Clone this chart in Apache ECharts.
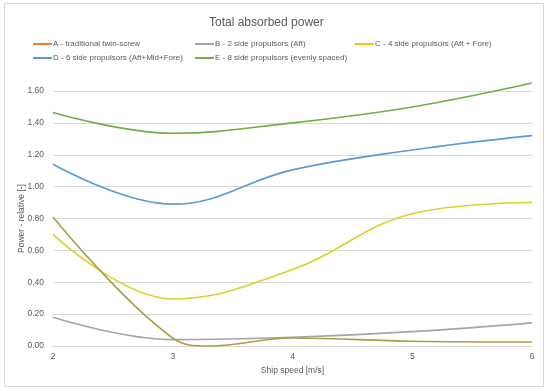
<!DOCTYPE html>
<html><head><meta charset="utf-8">
<script src="https://cdn.jsdelivr.net/npm/echarts@6/dist/echarts.min.js"></script>
<style>html,body{margin:0;padding:0;background:#fff}#c{width:550px;height:391px}</style>
</head><body><div id="c"></div>
<script>
const speeds = [2, 3, 4, 5, 6];
const speedsA = [2, 3, 3.3, 4, 5, 6];
const seriesNames = [
  'A - traditional twin-screw',
  'B - 2 side propulsors (Aft)',
  'C - 4 side propulsors (Aft + Fore)',
  'D - 6 side propulsors (Aft+Mid+Fore)',
  'E - 8 side propulsors (evenly spaced)'
];
const valuesA = [0.81, 0.05, 0.0, 0.05, 0.03, 0.025];
const valuesB = [0.18, 0.04, 0.055, 0.09, 0.145];
const valuesC = [0.70, 0.295, 0.48, 0.83, 0.90];
const valuesD = [1.14, 0.89, 1.105, 1.23, 1.32];
const valuesE = [1.465, 1.335, 1.40, 1.50, 1.65];
const yTicks = [0, 0.2, 0.4, 0.6, 0.8, 1.0, 1.2, 1.4, 1.6];

const lineColors = ['#AD9C48', '#A5A5A5', '#D9D22A', '#5B9BD5', '#70AD47'];
const legendColors = ['#ED7D31', '#A5A5A5', '#FFC000', '#5B9BD5', '#70AD47'];
const allValues = [valuesA, valuesB, valuesC, valuesD, valuesE];
const allSpeeds = [speedsA, speeds, speeds, speeds, speeds];
const legendPos = [[33, 40], [195, 40], [355, 40], [33, 54], [195, 54]];

const font = '"Liberation Sans", Arial, sans-serif';
const legends = seriesNames.map((n, i) => ({
  data: [{name: n, itemStyle: {color: legendColors[i]}, lineStyle: {color: legendColors[i]}}],
  left: legendPos[i][0], top: legendPos[i][1],
  itemWidth: 19, itemHeight: 2, icon: 'rect', padding: 0,
  selectedMode: false,
  textStyle: {fontSize: 8, color: '#595959', fontFamily: font, padding: [0, 0, 0, -4]}
}));

const chart = echarts.init(document.getElementById('c'), null, {renderer: 'canvas'});
chart.setOption({
  animation: false,
  title: {text: 'Total absorbed power', left: 204, top: 12,
    textStyle: {fontSize: 12, fontWeight: 'normal', color: '#595959', fontFamily: font}},
  legend: legends,
  grid: {left: 53, right: 18, top: 91, bottom: 45, containLabel: false, outerBoundsMode: 'none'},
  graphic: [{type: 'rect', shape: {x: 4.5, y: 3.5, width: 539, height: 383},
    style: {fill: 'none', stroke: '#D9D9D9', lineWidth: 1}, z: -1}],
  xAxis: {type: 'value', min: 2, max: 6, interval: 1,
    name: 'Ship speed [m/s]', nameLocation: 'middle', nameGap: 20,
    nameTextStyle: {fontSize: 8.5, color: '#595959', fontFamily: font},
    axisLine: {show: true, lineStyle: {color: '#D9D9D9'}},
    axisTick: {show: false}, splitLine: {show: false},
    axisLabel: {fontSize: 8.5, color: '#595959', fontFamily: font, margin: 6}},
  yAxis: {type: 'value', min: 0, max: 1.6, interval: 0.2,
    name: 'Power - relative [-]', nameLocation: 'middle', nameGap: 27, nameMoveOverlap: false,
    nameTextStyle: {fontSize: 8.5, color: '#595959', fontFamily: font},
    axisLine: {show: false}, axisTick: {show: false},
    splitLine: {lineStyle: {color: '#D9D9D9'}},
    axisLabel: {fontSize: 8.5, color: '#595959', fontFamily: font, margin: 9,
      formatter: v => v.toFixed(2)}},
  series: seriesNames.map((n, i) => ({
    name: n, type: 'line', smooth: 0.4, showSymbol: false, clip: false,
    data: allSpeeds[i].map((s, k) => [s, allValues[i][k]]),
    itemStyle: {color: lineColors[i]},
    lineStyle: {color: lineColors[i], width: 1.6},
    z: i === 0 ? 5 : 2
  }))
});
</script></body></html>
